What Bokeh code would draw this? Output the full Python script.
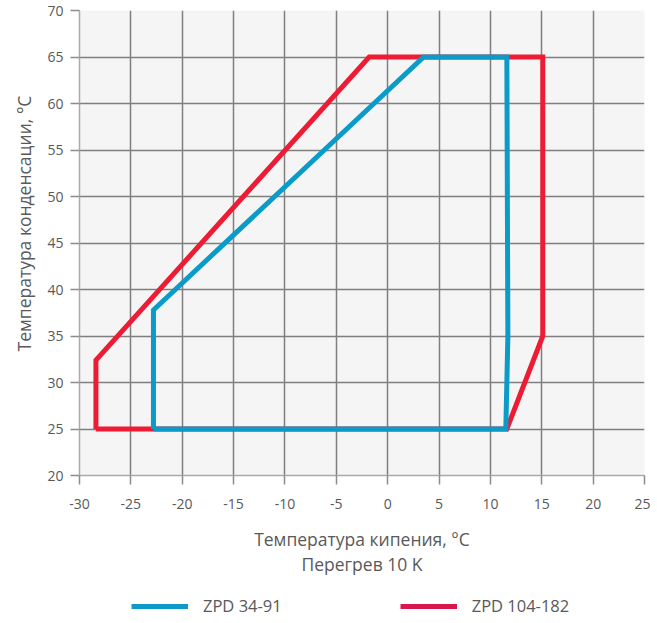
from bokeh.plotting import figure
from bokeh.models import Range1d, FixedTicker, Legend, LegendItem, Title
from bokeh.layouts import column
from bokeh.embed import file_html
from bokeh.resources import INLINE

# Data
x_ticks = [-30, -25, -20, -15, -10, -5, 0, 5, 10, 15, 20, 25]
y_ticks = [20, 25, 30, 35, 40, 45, 50, 55, 60, 65, 70]

red_name = "ZPD 104-182"
red_x = [-28.4, -28.4, -1.8, 15.1, 15.1, 11.6, -28.4]
red_y = [25.0, 32.4, 65.0, 65.0, 35.0, 25.0, 25.0]

blue_name = "ZPD 34-91"
blue_x = [-22.8, -22.8, 3.5, 11.6, 11.7, 11.5, -22.8]
blue_y = [25.0, 37.8, 65.0, 65.0, 35.0, 25.0, 25.0]

x_title = "Температура кипения, °C\nПерегрев 10 K"
y_title = "Температура конденсации, °C"

BLUE = "#0b9bc9"
RED = "#ee1b34"
LEG_BLUE = "#0e9ac6"
LEG_RED = "#d8174a"
TXT = "#595959"

p = figure(width=650, height=580,
           x_range=Range1d(-30, 25), y_range=Range1d(20, 70),
           output_backend="svg", toolbar_location=None,
           min_border_left=79, min_border_right=6, min_border_top=10,
           min_border_bottom=105)

p.border_fill_color = "white"
p.background_fill_color = "#f5f5f5"
p.outline_line_color = None

p.line(red_x, red_y, line_color=RED, line_width=5, line_join="miter")
p.line(blue_x, blue_y, line_color=BLUE, line_width=5, line_join="miter")

p.xaxis.ticker = FixedTicker(ticks=x_ticks)
p.yaxis.ticker = FixedTicker(ticks=y_ticks)
p.xgrid.ticker = FixedTicker(ticks=x_ticks)
p.ygrid.ticker = FixedTicker(ticks=y_ticks)
p.xaxis.major_label_overrides = {t: str(t) for t in x_ticks}
p.yaxis.major_label_overrides = {t: str(t) for t in y_ticks}

for ax in (p.xaxis[0], p.yaxis[0]):
    ax.major_tick_out = 9
    ax.major_tick_in = 0
    ax.minor_tick_out = 0
    ax.minor_tick_in = 0
    ax.major_tick_line_color = "#8c8c8c"
    ax.major_tick_line_width = 1.5
    ax.axis_line_color = "#aaaaaa"
    ax.axis_line_width = 1.5
    ax.major_label_text_font = "Open Sans"
    ax.major_label_text_font_size = "14px"
    ax.major_label_text_color = TXT
    ax.axis_label_text_color = TXT
    ax.axis_label_text_font_style = "normal"

p.xaxis.major_label_standoff = 14
p.xaxis.axis_label = x_title
p.xaxis.axis_label_text_font = "Open Sans"
p.xaxis.axis_label_text_font_size = "17.5px"
p.xaxis.axis_label_text_line_height = 1.05
p.xaxis.axis_label_standoff = 15

p.yaxis.major_label_standoff = 7

ytitle = Title(text=y_title, align="left", offset=124, standoff=14,
               vertical_align="top",
               text_font="Open Sans", text_font_size="17.5px",
               text_font_style="normal", text_color=TXT)
p.add_layout(ytitle, "left")

for g in (p.xgrid[0], p.ygrid[0]):
    g.grid_line_color = "#7f7f7f"
    g.grid_line_width = 1.5

# legend strip
p2 = figure(width=650, height=40, x_range=Range1d(0, 1), y_range=Range1d(0, 1),
            x_axis_type=None, y_axis_type=None,
            output_backend="svg", toolbar_location=None,
            min_border_left=0, min_border_right=0, min_border_top=0,
            min_border_bottom=0)
p2.outline_line_color = None
p2.xgrid.visible = False
p2.ygrid.visible = False
l_blue = p2.line(x=[5, 6], y=[5, 6], line_color=LEG_BLUE, line_width=5)
l_red = p2.line(x=[5, 6], y=[5, 6], line_color=LEG_RED, line_width=5)

legend = Legend(items=[LegendItem(label=blue_name, renderers=[l_blue]),
                       LegendItem(label=red_name, renderers=[l_red])],
                orientation="horizontal", location=(52, 3),
                glyph_width=57, glyph_height=14, label_height=14,
                label_standoff=15, spacing=118, padding=0, margin=0,
                border_line_color=None, background_fill_alpha=0,
                label_text_font="Open Sans", label_text_font_size="16.5px",
                label_text_color=TXT)
p2.add_layout(legend, "center")

layout = column(p, p2, spacing=0)
open("out.html", "w").write(file_html(layout, INLINE))
